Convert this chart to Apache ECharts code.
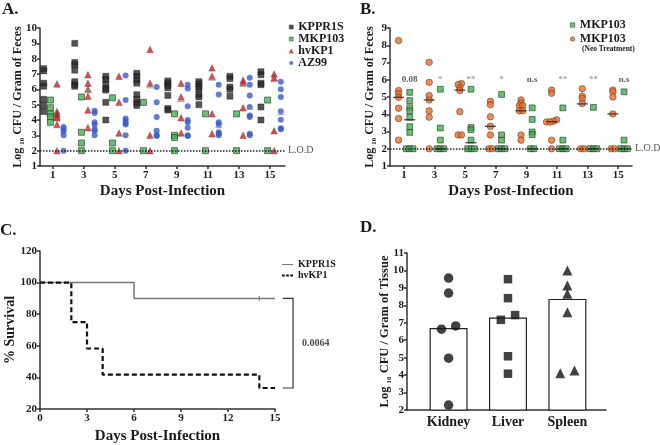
<!DOCTYPE html>
<html><head><meta charset="utf-8">
<script src="https://cdn.jsdelivr.net/npm/echarts@6/dist/echarts.min.js"></script>
<style>html,body{margin:0;padding:0;background:#fff}#c{width:660px;height:445px}</style>
</head><body><div id="c"></div>
<script>
const F = 'Liberation Serif';
const days = [1, 3, 5, 7, 9, 11, 13, 15];
const LOD = 2;

// Panel A: log10 CFU / g feces per day
const A_KPPR1S = [
  [7.35, 7.2, 6.4, 6.2, 5.35, 4.95, 4.55],
  [9.0, 7.75, 7.6, 7.25, 6.5, 6.3, 6.2],
  [6.85, 6.65, 6.35, 6.05, 5.95, 5.15, 4.0],
  [7.05, 6.85, 6.6, 6.4, 5.65, 5.35, 5.1, 4.95],
  [6.55, 6.4, 6.25, 6.1, 5.6, 4.75, 4.65],
  [6.5, 6.35, 6.15, 6.0, 5.65, 5.5, 5.0],
  [6.85, 6.7, 6.15, 6.0, 5.55],
  [7.15, 6.95, 6.4, 6.3, 4.85, 4.0]
];
const A_MKP103 = [
  [5.3, 4.8, 4.4, 4.2, 3.85],
  [5.5, 3.2, 2.5, 2],
  [5.45, 2.5, 2],
  [5.15, 2],
  [4.4, 3.0, 2.85, 2],
  [4.4, 2],
  [4.4, 2],
  [5.3, 2]
];
const A_hvKP1 = [
  [6.35, 4.55, 4.4, 4.25, 4.15, 3.7, 2],
  [6.95, 6.4, 6.0, 5.55, 4.65, 3.5],
  [6.85, 5.15, 3.15, 2],
  [8.6, 6.4, 3.0, 2],
  [6.4, 5.5, 4.15, 3.15],
  [7.4, 6.85, 4.4, 3.1],
  [6.6, 6.45, 4.8, 3.0],
  [7.0, 6.75, 3.3, 2]
];
const A_AZ99 = [
  [3.55, 3.4, 3.25, 3.0, 2],
  [4.6, 4.45, 3.85, 3.7, 3.4, 3.3, 3.0],
  [6.9, 5.3, 4.1, 3.95, 3.8, 3.7, 3.0, 2],
  [6.15, 5.15, 4.2, 3.3, 3.0, 2.95],
  [6.3, 6.05, 4.9, 4.0, 3.85, 3.5, 3.0, 2.95],
  [6.3, 5.67, 3.85, 3.7, 3.2, 3.1, 3.0],
  [6.75, 6.3, 5.6, 4.85, 4.3, 4.2, 3.1, 3.0],
  [6.5, 6.0, 5.5, 4.57, 4.02, 3.47, 3.4]
];
const A_hvKP1_median = [null, 5.9, 4.95, 6.1, 5.2, 6.6, 6.2, 6.5];
const A_AZ99_median = [null, null, null, null, null, 3.5, 4.7, 4.35];

// Panel B
const B_neo = [
  [8.27, 5.37, 5.2, 4.98, 4.35, 3.75, 2.5],
  [7.01, 5.85, 5.08, 4.83, 4.2, 3.83, 2],
  [5.78, 5.72, 5.55, 5.38, 4.15, 2.8, 2.8],
  [4.75, 4.55, 3.85, 3.3, 2.8, 2, 2],
  [4.83, 4.65, 4.5, 4.5, 4.2, 4.2, 2.8, 2.5],
  [5.4, 5.22, 3.68, 3.6, 3.55, 3.55, 2.5, 2],
  [5.48, 5.05, 4.92, 4.62, 2, 2],
  [5.4, 5.3, 5.0, 4.02, 2, 2]
];
const B_green = [
  [5.27, 4.79, 4.38, 4.2, 3.82, 3.28, 2.95, 2, 2, 2],
  [5.45, 3.2, 2.5, 2, 2, 2],
  [5.45, 3.23, 3.1, 2.5, 2, 2, 2],
  [5.15, 2.8, 2.5, 2, 2, 2],
  [4.37, 3.7, 2.97, 2.82, 2, 2],
  [4.37, 2.5, 2, 2, 2],
  [4.4, 2, 2, 2],
  [5.3, 2.5, 2, 2, 2]
];
const B_neo_median = [4.98, 4.83, 5.4, 3.3, 4.2, 3.57, 4.6, 4.02];
const B_green_median = [3.68, 2, 2.35, 2, 2, 2, 2, 2];
const B_sig = ['0.08', '*', '**', '*', 'n.s', '**', '**', 'n.s'];
const B_sigLevel = 6;

// Panel C: survival
const C_KPPR1S_days = [0, 6, 15];
const C_KPPR1S = [100, 90, 90];
const C_hvKP1_days = [0, 2, 3, 4, 14, 15];
const C_hvKP1 = [100, 75, 58.3, 41.7, 33.3, 33.3];
const C_censor = [[14, 90]];
const C_pValue = '0.0064';

// Panel D
const organs = ['Kidney', 'Liver', 'Spleen'];
const D_means = [6.7, 7.3, 8.37];
const D_kidney = [9.56, 8.7, 6.82, 6.63, 4.97, 2.28];
const D_liver = [9.5, 8.41, 7.44, 7.17, 5.08, 4.08];
const D_spleen = [10.0, 9.14, 8.66, 7.6, 4.26, 4.1];

// ---------- helpers ----------
function spread(values, thr, step) {
  const idx = values.map((v, i) => i).sort((a, b) => values[a] - values[b]);
  const off = new Array(values.length).fill(0);
  let start = 0;
  for (let k = 1; k <= idx.length; k++) {
    if (k === idx.length || values[idx[k]] - values[idx[k - 1]] > thr) {
      const n = k - start;
      for (let j = 0; j < n; j++) off[idx[start + j]] = (j - (n - 1) / 2) * step;
      start = k;
    }
  }
  return off;
}
function groupData(groups, offset, thr, step) {
  const out = [];
  groups.forEach((vals, i) => {
    const off = spread(vals, thr, step);
    vals.forEach((v, j) => out.push([days[i] + offset + off[j], v]));
  });
  return out;
}
function medianData(meds, offset) {
  return meds.map((m, i) => m == null ? null : [days[i] + offset, m]).filter(Boolean);
}

const TXT = '#1a1a1a';
const axisLine = { show: true, lineStyle: { color: '#333', width: 1.5 } };
const tick = { show: true, length: 3, lineStyle: { color: '#333', width: 1.5 } };
const lab = (fs) => ({ fontFamily: F, fontWeight: 'bold', fontSize: fs, color: TXT });
function ylogName(rest, fs) {
  return {
    name: '{a|Log }{s|10}{a| CFU / Gram of ' + rest + '}',
    nameTextStyle: {
      rich: {
        a: { fontFamily: F, fontWeight: 'bold', fontSize: fs, color: TXT, lineHeight: 16 },
        s: { fontFamily: F, fontWeight: 'bold', fontSize: 7, color: TXT, lineHeight: 8, verticalAlign: 'bottom' }
      }
    }
  };
}
const xTitle = { fontFamily: F, fontWeight: 'bold', fontSize: 15, color: TXT };

const offA = { KPPR1S: -0.58, MKP103: -0.15, hvKP1: 0.27, AZ99: 0.7 };
const offB = { neo: -0.35, green: 0.38 };

const C_GREEN = '#3cb44b', C_RED = '#d9211f', C_BLUE = '#3a5bc9', C_ORANGE = '#f26a21';

const lodLine = (label) => ({
  silent: true, symbol: 'none',
  lineStyle: { type: [1.5, 1.5], color: '#222', width: 1.5 },
  label: { show: true, position: 'end', formatter: label, fontFamily: F, fontSize: 10, color: '#555', distance: 3 },
  data: [{ yAxis: LOD }]
});
const legText = (fs) => ({ fontFamily: F, fontWeight: 'bold', fontSize: fs, color: TXT, lineHeight: 11 });

const option = {
  animation: false,
  textStyle: { fontFamily: F },
  title: [
    { text: 'A.', left: 2, top: 1, padding: 0, textStyle: { fontFamily: F, fontWeight: 'bold', fontSize: 17, color: TXT } },
    { text: 'B.', left: 360, top: 1, padding: 0, textStyle: { fontFamily: F, fontWeight: 'bold', fontSize: 17, color: TXT } },
    { text: 'C.', left: 0, top: 222, padding: 0, textStyle: { fontFamily: F, fontWeight: 'bold', fontSize: 17, color: TXT } },
    { text: 'D.', left: 360, top: 219, padding: 0, textStyle: { fontFamily: F, fontWeight: 'bold', fontSize: 17, color: TXT } }
  ],
  legend: [
    {
      data: [{ name: 'KPPR1S', icon: 'rect' }, { name: 'MKP103', icon: 'rect' }, { name: 'hvKP1', icon: 'triangle' }, { name: 'AZ99', icon: 'circle' }],
      orient: 'vertical', left: 289, top: 21,
      itemWidth: 4, itemHeight: 4, itemGap: 0, padding: 0, itemStyle: { borderWidth: 0.5 },
      textStyle: legText(12)
    },
    {
      data: [{ name: 'MKP103', icon: 'rect' }, { name: 'MKP103 (Neo Treatment)', icon: 'circle' }],
      orient: 'vertical', left: 570, top: 19,
      itemWidth: 4.5, itemHeight: 4.5, itemGap: 2, padding: 0, itemStyle: { borderWidth: 0.6 },
      formatter: (n) => n.replace(' (Neo Treatment)', ''),
      textStyle: legText(12)
    },
    {
      data: [
        { name: 'KPPR1S (survival)', icon: 'path://M0,0h12v1.2h-12z' },
        { name: 'hvKP1 (survival)', icon: 'path://M0,0h3v2h-3zM4.5,0h3v2h-3zM9,0h3v2h-3z' }
      ],
      orient: 'vertical', left: 282, top: 259,
      itemWidth: 11, itemHeight: 2, itemGap: 0, padding: 0,
      formatter: (n) => n.replace(' (survival)', ''),
      textStyle: legText(10)
    }
  ],
  graphic: [
    { type: 'text', left: 582, top: 45, style: { text: '(Neo Treatment)', font: 'bold 7.5px "Liberation Serif"', fill: TXT } }
  ],
  grid: [
    { left: 40, top: 28, width: 245, height: 138 },
    { left: 390, top: 28, width: 242, height: 138 },
    { left: 40, top: 251, width: 235, height: 159 },
    { left: 407, top: 253, width: 199, height: 157 }
  ],
  xAxis: [
    { gridIndex: 0, type: 'value', min: 0.18, max: 15.97, axisLine, axisTick: Object.assign({ customValues: days }, tick),
      axisLabel: Object.assign({ customValues: days, margin: 4 }, lab(11)), splitLine: { show: false },
      name: 'Days Post-Infection', nameLocation: 'middle', nameGap: 18, nameMoveOverlap: false, nameTextStyle: xTitle },
    { gridIndex: 1, type: 'value', min: 0.09, max: 15.9, axisLine, axisTick: Object.assign({ customValues: days }, tick),
      axisLabel: Object.assign({ customValues: days, margin: 4 }, lab(11)), splitLine: { show: false },
      name: 'Days Post-Infection', nameLocation: 'middle', nameGap: 18, nameMoveOverlap: false, nameTextStyle: xTitle },
    { gridIndex: 2, type: 'value', min: 0, max: 15, interval: 3, axisLine, axisTick: tick,
      axisLabel: Object.assign({ margin: 4 }, lab(11)), splitLine: { show: false },
      name: 'Days Post-Infection', nameLocation: 'middle', nameGap: 20, nameMoveOverlap: false, nameTextStyle: xTitle },
    { gridIndex: 3, type: 'value', min: 0.3, max: 3.65, axisLine, axisTick: { show: false },
      axisLabel: Object.assign({ customValues: [1, 2, 3], formatter: (v) => organs[Math.round(v) - 1], margin: 5 }, lab(14)),
      splitLine: { show: false } }
  ],
  yAxis: [
    Object.assign({ gridIndex: 0, type: 'value', min: 1, max: 10, interval: 1, axisLine, axisTick: tick,
      axisLabel: Object.assign({ margin: 3 }, lab(11)), splitLine: { show: false },
      nameLocation: 'middle', nameRotate: 90, nameGap: 14, nameMoveOverlap: false }, ylogName('Feces', 12)),
    Object.assign({ gridIndex: 1, type: 'value', min: 1, max: 9, interval: 1, axisLine, axisTick: tick,
      axisLabel: Object.assign({ margin: 3 }, lab(11)), splitLine: { show: false },
      nameLocation: 'middle', nameRotate: 90, nameGap: 12, nameMoveOverlap: false }, ylogName('Feces', 12)),
    { gridIndex: 2, type: 'value', min: 20, max: 120, interval: 20, axisLine, axisTick: tick,
      axisLabel: Object.assign({ margin: 3 }, lab(11)), splitLine: { show: false },
      name: '% Survival', nameLocation: 'middle', nameRotate: 90, nameGap: 23, nameMoveOverlap: false,
      nameTextStyle: { fontFamily: F, fontWeight: 'bold', fontSize: 14, color: TXT } },
    Object.assign({ gridIndex: 3, type: 'value', min: 2, max: 11, interval: 1, axisLine, axisTick: tick,
      axisLabel: Object.assign({ margin: 3 }, lab(11)), splitLine: { show: false },
      nameLocation: 'middle', nameRotate: 90, nameGap: 14, nameMoveOverlap: false }, ylogName('Tissue', 12.5))
  ],
  series: [
    // ---- A ----
    { type: 'scatter', name: 'lodA', xAxisIndex: 0, yAxisIndex: 0, data: [], z: 1, markLine: lodLine('L.O.D') },
    { type: 'scatter', name: 'KPPR1S', xAxisIndex: 0, yAxisIndex: 0, symbol: 'rect', symbolSize: 6,
      itemStyle: { color: '#2a2a2a', borderColor: '#111', borderWidth: 0.5 }, z: 3,
      data: groupData(A_KPPR1S, offA.KPPR1S, 0.001, 0.2) },
    { type: 'scatter', name: 'MKP103', xAxisIndex: 0, yAxisIndex: 0, symbol: 'rect', symbolSize: 6,
      itemStyle: { color: C_GREEN, borderColor: '#333', borderWidth: 0.8 }, z: 3,
      data: groupData(A_MKP103, offA.MKP103, 0.001, 0.2) },
    { type: 'scatter', name: 'hvKP1', xAxisIndex: 0, yAxisIndex: 0, symbol: 'triangle', symbolSize: 6.5,
      itemStyle: { color: C_RED, borderColor: '#444', borderWidth: 0.5 }, z: 3,
      data: groupData(A_hvKP1, offA.hvKP1, 0.001, 0.2) },
    { type: 'scatter', name: 'AZ99', xAxisIndex: 0, yAxisIndex: 0, symbol: 'circle', symbolSize: 6,
      itemStyle: { color: C_BLUE }, z: 3,
      data: groupData(A_AZ99, offA.AZ99, 0.001, 0.2) },
    { type: 'scatter', name: 'A hv median', xAxisIndex: 0, yAxisIndex: 0, symbol: 'rect', symbolSize: [7, 1.2],
      itemStyle: { color: '#999' }, z: 4, data: medianData(A_hvKP1_median, offA.hvKP1) },
    { type: 'scatter', name: 'A az median', xAxisIndex: 0, yAxisIndex: 0, symbol: 'rect', symbolSize: [7, 1.2],
      itemStyle: { color: '#999' }, z: 4, data: medianData(A_AZ99_median, offA.AZ99) },
    // ---- B ----
    { type: 'scatter', name: 'lodB', xAxisIndex: 1, yAxisIndex: 1, data: [], z: 1, markLine: lodLine('L.O.D') },
    { type: 'scatter', name: 'MKP103', xAxisIndex: 1, yAxisIndex: 1, symbol: 'rect', symbolSize: 5.8,
      itemStyle: { color: C_GREEN, borderColor: '#333', borderWidth: 0.8 }, z: 3,
      data: groupData(B_green, offB.green, 0.1, 0.22) },
    { type: 'scatter', name: 'MKP103 (Neo Treatment)', xAxisIndex: 1, yAxisIndex: 1, symbol: 'circle', symbolSize: 6.5,
      itemStyle: { color: C_ORANGE, borderColor: '#444', borderWidth: 0.7 }, z: 3,
      data: groupData(B_neo, offB.neo, 0.1, 0.22) },
    { type: 'scatter', name: 'B neo median', xAxisIndex: 1, yAxisIndex: 1, symbol: 'rect', symbolSize: [11, 1.3],
      itemStyle: { color: '#222' }, z: 4, data: medianData(B_neo_median, offB.neo) },
    { type: 'scatter', name: 'B green median', xAxisIndex: 1, yAxisIndex: 1, symbol: 'rect', symbolSize: [11, 1.3],
      itemStyle: { color: '#222' }, z: 4, data: medianData(B_green_median, offB.green) },
    { type: 'scatter', name: 'B sig', xAxisIndex: 1, yAxisIndex: 1, symbolSize: 0, silent: true, z: 5,
      data: days.map((d, i) => ({ value: [d + offB.green, B_sigLevel],
        label: { formatter: B_sig[i], color: B_sig[i].indexOf('*') >= 0 ? '#8a8a8a' : '#333' } })),
      label: { show: true, position: 'inside', fontFamily: F, fontWeight: 'bold', fontSize: 9 } },
    // ---- C ----
    { type: 'line', name: 'KPPR1S (survival)', xAxisIndex: 2, yAxisIndex: 2, step: 'end', symbol: 'none',
      lineStyle: { color: '#777', width: 1.5 }, itemStyle: { color: '#777' },
      data: C_KPPR1S_days.map((d, i) => [d, C_KPPR1S[i]]) },
    { type: 'line', name: 'hvKP1 (survival)', xAxisIndex: 2, yAxisIndex: 2, step: 'end', symbol: 'none',
      lineStyle: { color: '#111', width: 2.2, type: [5, 3] }, itemStyle: { color: '#111' },
      data: C_hvKP1_days.map((d, i) => [d, C_hvKP1[i]]) },
    { type: 'scatter', name: 'C censor', xAxisIndex: 2, yAxisIndex: 2, symbol: 'rect', symbolSize: [1.2, 5],
      itemStyle: { color: '#777' }, data: C_censor },
    { type: 'scatter', name: 'C p', xAxisIndex: 2, yAxisIndex: 2, symbolSize: 0, clip: false, silent: true,
      data: [[16.15, (C_KPPR1S[C_KPPR1S.length - 1] + C_hvKP1[C_hvKP1.length - 1]) / 2]],
      label: { show: true, position: 'right', distance: 9, formatter: C_pValue, fontFamily: F, fontWeight: 'bold', fontSize: 10, color: TXT } },
    // ---- D ----
    { type: 'bar', name: 'D mean', xAxisIndex: 3, yAxisIndex: 3, barWidth: 38,
      itemStyle: { color: '#fff', borderColor: '#222', borderWidth: 1.2 },
      data: D_means.map((m, i) => [i + 1, m]) },
    { type: 'scatter', name: 'Kidney', xAxisIndex: 3, yAxisIndex: 3, symbol: 'circle', symbolSize: 9.5,
      itemStyle: { color: '#111' }, z: 3,
      data: (() => { const o = spread(D_kidney, 0.35, 0.24); return D_kidney.map((v, j) => [1 + o[j], v]); })() },
    { type: 'scatter', name: 'Liver', xAxisIndex: 3, yAxisIndex: 3, symbol: 'rect', symbolSize: 8.5,
      itemStyle: { color: '#111' }, z: 3,
      data: (() => { const o = spread(D_liver, 0.35, 0.24); return D_liver.map((v, j) => [2 + o[j], v]); })() },
    { type: 'scatter', name: 'Spleen', xAxisIndex: 3, yAxisIndex: 3, symbol: 'triangle', symbolSize: 10,
      itemStyle: { color: '#111' }, z: 3,
      data: (() => { const o = spread(D_spleen, 0.35, 0.24); return D_spleen.map((v, j) => [3 + o[j], v]); })() }
  ]
};
const chart = echarts.init(document.getElementById('c'), null, { renderer: 'canvas' });
chart.setOption(option);

// significance bracket in panel C, placed through the axis scales
const kEnd = C_KPPR1S[C_KPPR1S.length - 1], hEnd = C_hvKP1[C_hvKP1.length - 1];
const toPx = (p) => chart.convertToPixel({ xAxisIndex: 2, yAxisIndex: 2 }, p);
const p1 = toPx([15.5, kEnd]), p2 = toPx([16.15, kEnd]), p3 = toPx([16.15, hEnd]), p4 = toPx([15.5, hEnd]);
chart.setOption({
  graphic: [
    { type: 'text', left: 582, top: 45, style: { text: '(Neo Treatment)', font: 'bold 7.5px "Liberation Serif"', fill: TXT } },
    { type: 'polyline', shape: { points: [p1, p2, p3, p4] }, style: { stroke: '#333', lineWidth: 1.2, fill: null } }
  ]
});
</script></body></html>
